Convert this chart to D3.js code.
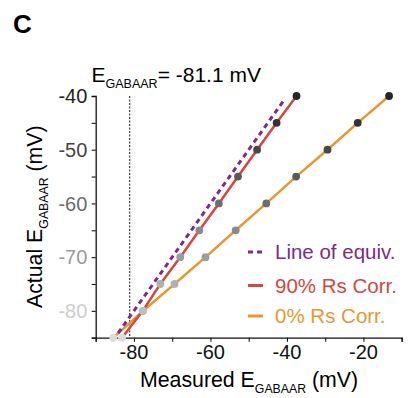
<!DOCTYPE html>
<html>
<head>
<meta charset="utf-8">
<script src="https://cdn.jsdelivr.net/npm/d3@7"></script>
<style>
  body { margin: 0; background: #fff; }
  svg text { font-family: "Liberation Sans", Arial, sans-serif; }
</style>
</head>
<body>
<div id="chart"></div>
<script>
// actual E_GABAAR levels (y) and measured values for each series (x)
const actualLevels = [-85, -80, -75, -70, -65, -60, -55, -50, -45, -40];
const measured90 = [-83.1, -77.7, -73.1, -67.9, -62.9, -57.8, -52.8, -47.8, -42.7, -37.5];
const measured0 = [-85.4, -77.6, -69.4, -61.3, -53.4, -45.4, -37.6, -29.4, -21.5, -13.3];
const equivLine = [-85.5, -40.7];
const dotShades = ["#dcdcdc", "#bdbdbd", "#b0b0b0", "#9c9c9c", "#8a8a8a", "#6e6e6e", "#595959", "#474747", "#333333", "#262626"];
const xTicks = [-80, -60, -40, -20];
const yTicks = [-80, -70, -60, -50, -40];
const yTickColors = {"-80": "#cccccc", "-70": "#9a9a9a", "-60": "#6a6a6a", "-50": "#444444", "-40": "#222222"};
const eRev = -81.1;

const W = 411, H = 398;
const margin = {left: 95.7, right: 9.3, top: 96, bottom: 60.3};

const svg = d3.select("#chart").append("svg")
    .attr("width", W)
    .attr("height", H);

const x = d3.scaleLinear().domain([-90, -10]).range([margin.left, W - margin.right]);
const y = d3.scaleLinear().domain([-85, -40]).range([H - margin.bottom, margin.top]);

const red = "#d4473a", orange = "#e8972f", purple = "#7c2a8c";

// panel letter
svg.append("text").attr("x", 13).attr("y", 32.5)
    .attr("font-size", 26).attr("font-weight", "bold").text("C");

// reversal potential label
const lab = svg.append("text").attr("x", 91.5).attr("y", 81.5).attr("font-size", 21);
lab.append("tspan").text("E");
lab.append("tspan").attr("font-size", 12.5).attr("dy", 6.5).text("GABAAR");
lab.append("tspan").attr("dy", -6.5).text("= " + eRev + " mV");

// axes
const xAxis = svg.append("g")
    .attr("transform", `translate(0,${y(-85)})`)
    .call(d3.axisBottom(x).tickValues(d3.range(-90, -9, 10)).tickSize(4).tickFormat(""));
const yAxis = svg.append("g")
    .attr("transform", `translate(${x(-90)},0)`)
    .call(d3.axisLeft(y).tickValues(d3.range(-85, -39, 5)).tickSize(4).tickFormat(""));
[xAxis, yAxis].forEach(g => {
    g.select(".domain").attr("stroke", "#111").attr("stroke-width", 1.3);
    g.selectAll(".tick line").attr("stroke", "#111").attr("stroke-width", 1.1);
});

svg.selectAll(".xlab").data(xTicks).join("text")
    .attr("x", d => x(d)).attr("y", 359.3)
    .attr("text-anchor", "middle").attr("font-size", 20).attr("fill", "#111")
    .text(d => d);
svg.selectAll(".ylab").data(yTicks).join("text")
    .attr("x", 87.3).attr("y", d => y(d) + 7.2)
    .attr("text-anchor", "end").attr("font-size", 20)
    .attr("fill", d => yTickColors[d])
    .text(d => d);

// axis titles
const xt = svg.append("text").attr("x", 140).attr("y", 386.5).attr("font-size", 21.3);
xt.append("tspan").text("Measured E");
xt.append("tspan").attr("font-size", 12.3).attr("dy", 6.5).text("GABAAR");
xt.append("tspan").attr("dy", -6.5).text(" (mV)");

const yt = svg.append("text")
    .attr("transform", "translate(41.5,308) rotate(-90)")
    .attr("font-size", 21.3);
yt.append("tspan").text("Actual E");
yt.append("tspan").attr("font-size", 12.3).attr("dy", 6.5).text("GABAAR");
yt.append("tspan").attr("dy", -6.5).text(" (mV)");

// reversal marker
svg.append("line")
    .attr("x1", x(eRev)).attr("x2", x(eRev))
    .attr("y1", y(-40)).attr("y2", y(-85))
    .attr("stroke", "#111").attr("stroke-width", 1).attr("stroke-dasharray", "2,1.5");

// series lines
const line = d3.line().x(d => x(d[0])).y(d => y(d[1]));
const pts90 = actualLevels.map((a, i) => [measured90[i], a]);
const pts0 = actualLevels.map((a, i) => [measured0[i], a]);

svg.append("path").datum(pts0).attr("d", line)
    .attr("fill", "none").attr("stroke", orange).attr("stroke-width", 2.5);
svg.append("path").datum(pts90).attr("d", line)
    .attr("fill", "none").attr("stroke", red).attr("stroke-width", 2.5);
svg.append("path").datum(equivLine.map(v => [v, v])).attr("d", line)
    .attr("fill", "none").attr("stroke", purple).attr("stroke-width", 3)
    .attr("stroke-dasharray", "5,4");

// dots
[pts0, pts90].forEach(pts => {
    svg.append("g").selectAll("circle").data(pts).join("circle")
        .attr("cx", d => x(d[0])).attr("cy", d => y(d[1]))
        .attr("r", 3.9)
        .attr("fill", (d, i) => dotShades[i]);
});

// legend
const legend = [
    {label: "Line of equiv.", color: purple, dash: "5,4", y: 252},
    {label: "90% Rs Corr.", color: red, dash: null, y: 285.5},
    {label: "0% Rs Corr.", color: orange, dash: null, y: 316}
];
legend.forEach(l => {
    svg.append("line").attr("x1", 248).attr("x2", 263).attr("y1", l.y).attr("y2", l.y)
        .attr("stroke", l.color).attr("stroke-width", 3)
        .attr("stroke-dasharray", l.dash);
    svg.append("text").attr("x", 275).attr("y", l.y + 7.3)
        .attr("font-size", 20.5).attr("fill", l.color).text(l.label);
});
</script>
</body>
</html>
